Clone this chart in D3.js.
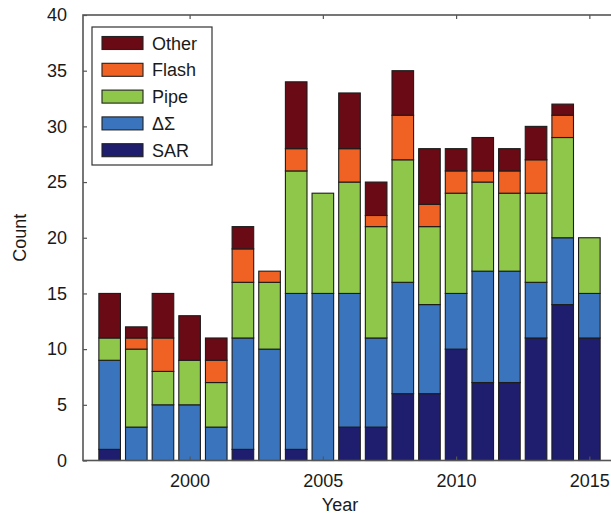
<!DOCTYPE html>
<html lang="en">
<head>
<meta charset="utf-8">
<title>Count by year</title>
<script src="https://cdn.jsdelivr.net/npm/d3@7/dist/d3.min.js"></script>
<style>
  body { margin: 0; background: #fff; }
  text { font-family: "Liberation Sans", Arial, sans-serif; fill: #1a1a1a; }
</style>
</head>
<body>
<svg id="chart" width="611" height="515"></svg>
<script>
// data
var years = [1997, 1998, 1999, 2000, 2001, 2002, 2003, 2004, 2005, 2006,
             2007, 2008, 2009, 2010, 2011, 2012, 2013, 2014, 2015];
var sar   = [1, 0, 0, 0, 0, 1, 0, 1, 0, 3, 3, 6, 6, 10, 7, 7, 11, 14, 11];
var delta = [8, 3, 5, 5, 3, 10, 10, 14, 15, 12, 8, 10, 8, 5, 10, 10, 5, 6, 4];
var pipe  = [2, 7, 3, 4, 4, 5, 6, 11, 9, 10, 10, 11, 7, 9, 8, 7, 8, 9, 5];
var flash = [0, 1, 3, 0, 2, 3, 1, 2, 0, 3, 1, 4, 2, 2, 1, 2, 3, 2, 0];
var other = [4, 1, 4, 4, 2, 2, 0, 6, 0, 5, 3, 4, 5, 2, 3, 2, 3, 1, 0];

var seriesNames = ["SAR", "\u0394\u03A3", "Pipe", "Flash", "Other"];
var seriesColors = ["#1f1e6e", "#3a74bd", "#8fc74a", "#ef6223", "#6a0a14"];
var yTicks = [0, 5, 10, 15, 20, 25, 30, 35, 40];
var xTicks = [2000, 2005, 2010, 2015];

var table = years.map(function(y, i) {
  return { year: y, SAR: sar[i], "\u0394\u03A3": delta[i], Pipe: pipe[i], Flash: flash[i], Other: other[i] };
});

var svg = d3.select("#chart");
var plotL = 83, plotR = 616, plotT = 15, plotB = 460.5;

var x = d3.scaleLinear().domain([1996, 2016]).range([plotL, plotR]);
var y = d3.scaleLinear().domain([0, 40]).range([plotB, plotT]);
var color = d3.scaleOrdinal().domain(seriesNames).range(seriesColors);
var barW = (x(1) - x(0)) * 0.81;

var stacked = d3.stack().keys(seriesNames)(table);

svg.append("g").selectAll("g")
  .data(stacked)
  .enter().append("g")
    .attr("fill", function(d) { return color(d.key); })
  .selectAll("rect")
  .data(function(d) { return d.filter(function(p) { return p[1] > p[0]; }); })
  .enter().append("rect")
    .attr("x", function(d) { return x(d.data.year) - barW / 2; })
    .attr("y", function(d) { return y(d[1]); })
    .attr("width", barW)
    .attr("height", function(d) { return y(d[0]) - y(d[1]); })
    .attr("stroke", "#1c1c1c")
    .attr("stroke-width", 1.1);

// frame with inward ticks
var axisCol = "#555";
svg.append("g").attr("transform", "translate(" + plotL + ",0)")
  .call(d3.axisLeft(y).tickValues(yTicks).tickSize(-4).tickPadding(16))
  .call(function(g) { g.select(".domain").remove(); });
svg.append("g").attr("transform", "translate(0," + plotB + ")")
  .call(d3.axisBottom(x).tickValues(xTicks).tickFormat(d3.format("d")).tickSize(-4).tickPadding(14))
  .call(function(g) { g.select(".domain").remove(); });
svg.append("g").attr("transform", "translate(0," + plotT + ")")
  .call(d3.axisTop(x).tickValues(xTicks).tickSize(-4).tickFormat(""))
  .call(function(g) { g.select(".domain").remove(); });
svg.append("g").attr("transform", "translate(" + plotR + ",0)")
  .call(d3.axisRight(y).tickValues(yTicks).tickSize(-4).tickFormat(""))
  .call(function(g) { g.select(".domain").remove(); });

svg.selectAll(".tick line").attr("stroke", axisCol).attr("stroke-width", 1.2);
svg.selectAll(".tick text").style("font-size", "18px").attr("fill", "#1a1a1a");

svg.append("rect")
  .attr("x", plotL).attr("y", plotT)
  .attr("width", plotR - plotL).attr("height", plotB - plotT)
  .attr("fill", "none").attr("stroke", axisCol).attr("stroke-width", 1.6);

// axis titles
svg.append("text")
  .attr("x", 340).attr("y", 511)
  .attr("text-anchor", "middle").style("font-size", "18px")
  .text("Year");
svg.append("text")
  .attr("transform", "translate(26," + ((plotT + plotB) / 2) + ") rotate(-90)")
  .attr("text-anchor", "middle").style("font-size", "18px")
  .text("Count");

// legend
var legend = svg.append("g").attr("transform", "translate(92,27)");
legend.append("rect")
  .attr("width", 120).attr("height", 138)
  .attr("fill", "#fff").attr("stroke", "#333").attr("stroke-width", 1.2);
var items = legend.selectAll("g.item")
  .data(seriesNames.slice().reverse())
  .enter().append("g")
    .attr("class", "item")
    .attr("transform", function(d, i) { return "translate(0," + (16 + i * 26.8) + ")"; });
items.append("rect")
  .attr("x", 10).attr("y", -6.5)
  .attr("width", 41).attr("height", 13)
  .attr("fill", function(d) { return color(d); })
  .attr("stroke", "#222").attr("stroke-width", 1.1);
items.append("text")
  .attr("x", 60).attr("y", 6.5)
  .style("font-size", "18px")
  .text(function(d) { return d; });
</script>
</body>
</html>
